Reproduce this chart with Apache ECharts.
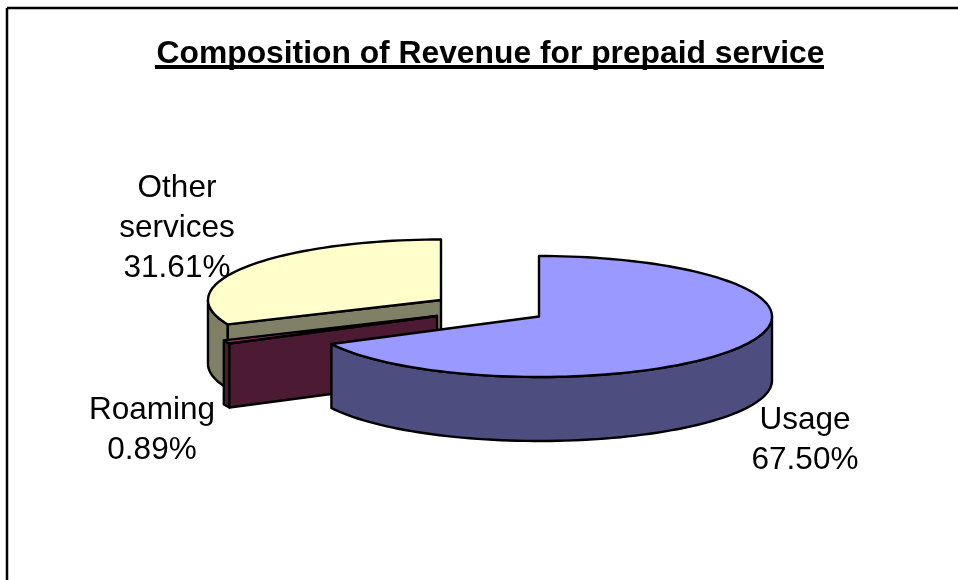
<!DOCTYPE html>
<html><head><meta charset="utf-8">
<style>html,body{margin:0;padding:0;background:#fff}#c{width:958px;height:580px}</style>
<script src="https://cdn.jsdelivr.net/npm/echarts@6/dist/echarts.min.js"></script>
</head><body><div id="c"></div>
<script>
const titleText = 'Composition of Revenue for prepaid service';
const categories = ['Usage', 'Roaming', 'Other services'];
const labelLines = [['Usage'], ['Roaming'], ['Other', 'services']];
const values = [67.50, 0.89, 31.61];

const topColors = ['#9999FF', '#993366', '#FFFFCC'];
const sideColors = ['#4D4D80', '#4D1A33', '#808066'];
const centers = [[539, 316.5], [437, 316], [441, 300]];
const labelPos = [[805, 440.5], [152, 430.5], [177, 228]];
const layers = [30, 20, 10];
const RX = 233, RY = 60.5, DEPTH = 64;
const FONT = '"Liberation Sans", Arial, sans-serif';

const total = values.reduce((a, b) => a + b, 0);
const starts = [];
values.reduce((acc, v, i) => { starts[i] = acc; return acc + v; }, 0);

function pt(c, deg, dy) {
  const r = deg * Math.PI / 180;
  return [c[0] + RX * Math.sin(r), c[1] - RY * Math.cos(r) + (dy || 0)];
}
function arc(c, a, b, dy) {
  const n = Math.max(2, Math.ceil(Math.abs(b - a) / 2)), out = [];
  for (let i = 0; i <= n; i++) out.push(pt(c, a + (b - a) * i / n, dy));
  return out;
}
const line = { stroke: '#000', lineWidth: 2.4, lineJoin: 'round' };

function renderItem(params, api) {
  const i = params.dataIndex, c = centers[i];
  const v = api.value(1);
  const a0 = starts[i] / total * 360, a1 = a0 + v / total * 360;
  const z = layers[i], kids = [];
  const poly = (points, fill, dz) => kids.push({
    type: 'polygon', z2: z + dz, shape: { points },
    style: Object.assign({ fill }, line)
  });
  // outer wall: the part of the rim facing the viewer
  const w0 = Math.max(a0, 90), w1 = Math.min(a1, 270);
  if (w1 > w0) poly(arc(c, w0, w1, 0).concat(arc(c, w1, w0, DEPTH)), sideColors[i], 0);
  // cut wall at the slice start, visible for the slices on the left
  if (a0 > 180) {
    const e = pt(c, a0);
    poly([c, e, [e[0], e[1] + DEPTH], [c[0], c[1] + DEPTH]], sideColors[i], 1);
  }
  // top face
  poly([c].concat(arc(c, a0, a1, 0)), topColors[i], 2);
  // label
  kids.push({
    type: 'text', z2: 100, x: labelPos[i][0], y: labelPos[i][1],
    style: {
      text: labelLines[i].concat(v.toFixed(2) + '%').join('\n'),
      font: '31.5px ' + FONT, fill: '#000', align: 'center', verticalAlign: 'middle', lineHeight: 40
    }
  });
  return { type: 'group', children: kids };
}

const chart = echarts.init(document.getElementById('c'), null, { renderer: 'canvas' });
chart.setOption({
  animation: false,
  backgroundColor: '#fff',
  title: {
    text: titleText, left: 485.5, top: 33, textAlign: 'center',
    textStyle: { fontFamily: FONT, fontWeight: 'bold', fontSize: 31.8, color: '#000' }
  },
  graphic: [
    { type: 'line', shape: { x1: 7, y1: 8, x2: 958, y2: 8 }, style: { stroke: '#000', lineWidth: 2.5 } },
    { type: 'line', shape: { x1: 7, y1: 8, x2: 7, y2: 580 }, style: { stroke: '#000', lineWidth: 2.5 } },
    { type: 'rect', shape: { x: 155, y: 65, width: 669, height: 4 }, style: { fill: '#000' } }
  ],
  series: [{
    type: 'custom', coordinateSystem: 'none', renderItem,
    data: categories.map((n, i) => ({ name: n, value: [i, values[i]] }))
  }]
});
</script></body></html>
